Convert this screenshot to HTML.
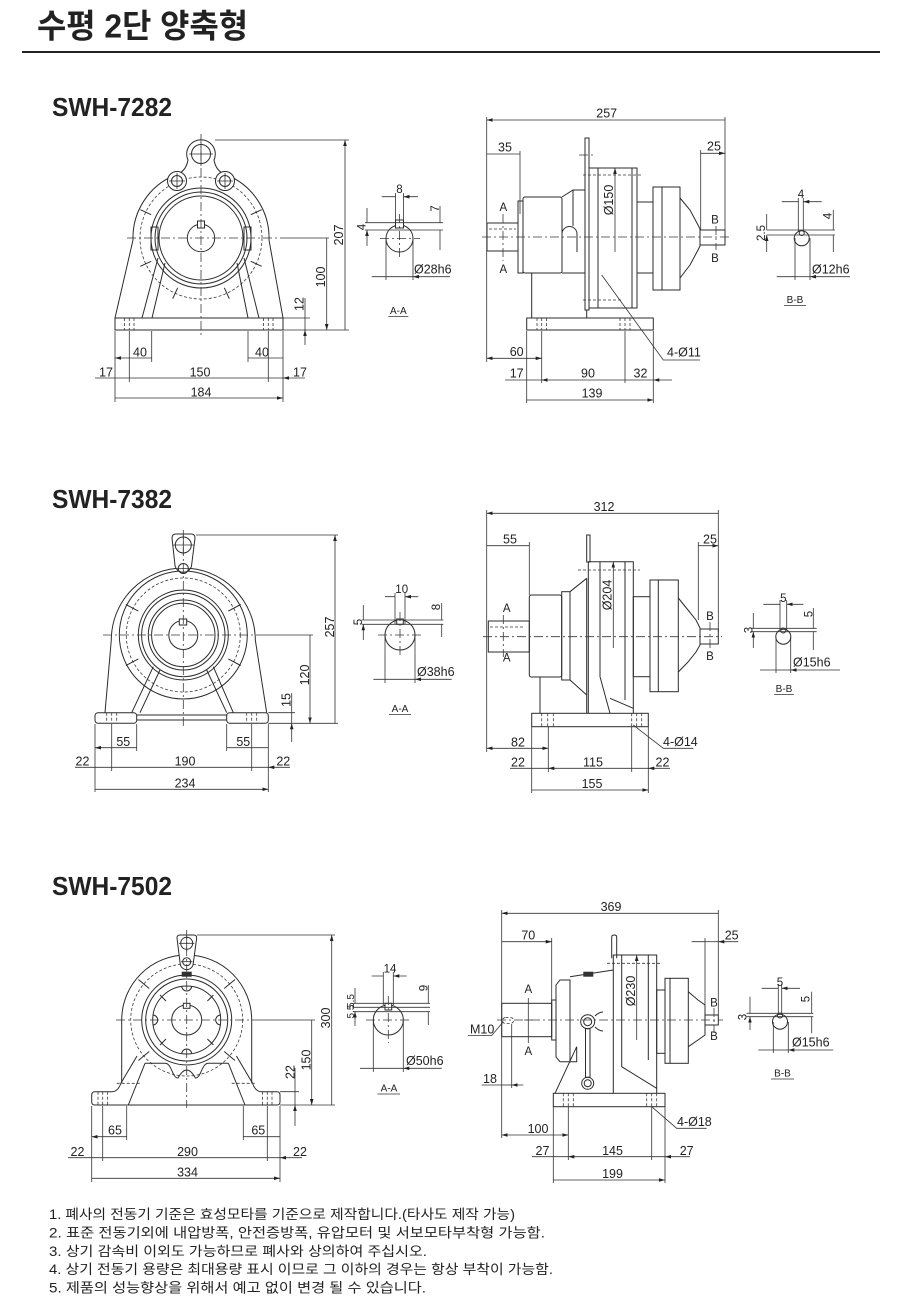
<!DOCTYPE html>
<html><head><meta charset="utf-8"><title>수평 2단 양축형</title>
<style>
html,body{margin:0;padding:0;background:#fff}
svg{display:block}
.s{fill:none;stroke:#2b2b2b;stroke-width:1}
.w{fill:#fff;stroke:#2b2b2b;stroke-width:1}
.c{fill:none;stroke:#3a3a3a;stroke-width:.8;stroke-dasharray:9 3 2 3}
.h{fill:none;stroke:#3a3a3a;stroke-width:.8;stroke-dasharray:3 2}
.e{fill:none;stroke:#333;stroke-width:.8}
.d{fill:none;stroke:#333;stroke-width:.8;marker-start:url(#ar);marker-end:url(#ar)}
.m{fill:none;stroke:#333;stroke-width:.8;marker-end:url(#ar)}
text{font-family:"Liberation Sans","Noto Sans CJK KR",sans-serif;fill:#222}
.t{font-size:12.5px;text-anchor:middle}
.ts{font-size:12.5px}
.l{font-size:10px;text-anchor:middle}
.k{font-size:11.5px;text-anchor:middle}
.n{font-size:13.5px}
</style></head><body>
<svg width="900" height="1305" viewBox="0 0 900 1305" xmlns="http://www.w3.org/2000/svg">
<defs><marker id="ar" viewBox="0 0 10 6" refX="10" refY="3" markerWidth="6" markerHeight="3.6" markerUnits="userSpaceOnUse" orient="auto-start-reverse"><path d="M0,0L10,3L0,6z" fill="#222"/></marker></defs>

<!-- TITLE -->
<text x="37" y="37.5" font-size="33" font-weight="bold" textLength="211" lengthAdjust="spacingAndGlyphs">수평 2단 양축형</text>
<rect x="22" y="51" width="858" height="2" fill="#222"/>

<text x="52" y="116" font-size="26" font-weight="bold" textLength="120" lengthAdjust="spacingAndGlyphs">SWH-7282</text>
<text x="52" y="508" font-size="26" font-weight="bold" textLength="120" lengthAdjust="spacingAndGlyphs">SWH-7382</text>
<text x="52" y="895" font-size="26" font-weight="bold" textLength="120" lengthAdjust="spacingAndGlyphs">SWH-7502</text>

<!-- ================= 7282 FRONT ================= -->
<circle class="h" cx="201" cy="238" r="61"/>
<path class="s" d="M115,318L133,240A68,68 0 0 1 175,175Q186,172 188,160A14.3,14.3 0 1 1 214,160Q216,172 227,175A68,68 0 0 1 269,240L283,318"/>
<circle class="s" cx="201" cy="154" r="9.5"/>
<path class="e" d="M189,154H213M201,142V166"/>
<path class="s" d="M250.8,214.7L261.7,209.7M250.8,261.3L261.7,266.3M224.3,287.8L229.3,298.7M177.7,287.8L172.7,298.7M151.2,261.3L140.3,266.3M151.2,214.7L140.3,209.7"/>
<circle class="w" cx="177" cy="181" r="9.5"/><circle class="s" cx="177" cy="181" r="5.5"/>
<circle class="w" cx="225" cy="181" r="9.5"/><circle class="s" cx="225" cy="181" r="5.5"/>
<path class="e" d="M169,181H185M177,173V189M217,181H233M225,173V189"/>
<circle class="s" cx="201" cy="238" r="50"/>
<circle class="s" cx="201" cy="238" r="46"/>
<circle class="s" cx="201" cy="238" r="42"/>
<rect class="s" x="151" y="227" width="7" height="23"/>
<rect class="s" x="244" y="227" width="7" height="23"/>
<circle class="s" cx="201" cy="238" r="13.7"/>
<rect class="w" x="197.5" y="221" width="7" height="7"/>
<path class="s" d="M158,258L142,318M165,263L152,318M237,263L248,318M244,258L259,318"/>
<rect class="s" x="115" y="318" width="168" height="12"/>
<path class="h" d="M124.5,318V330M129.3,318V330M134,318V330M263.5,318V330M268.3,318V330M273,318V330"/>
<path class="c" d="M127,238H282M201,134V336"/>
<path class="e" d="M282,238H329"/>
<!-- dims -->
<path class="e" d="M215,140H349M283,330H349M283,318H310"/>
<path class="d" d="M345,140V330M326.7,238V330"/>
<path class="m" d="M305,298V318M305,345V330"/>
<path class="e" d="M305,318V330"/>
<text class="t" transform="translate(343,235) rotate(-90)">207</text>
<text class="t" transform="translate(325,277) rotate(-90)">100</text>
<text class="t" transform="translate(303.5,304) rotate(-90)">12</text>
<path class="e" d="M115,331V402M283,331V402M129.3,331V382M268.3,331V382M151.7,331V362M248,331V362"/>
<path class="d" d="M115,358H151.7M248,358H283M129.3,378H268.3M115,398H283"/>
<path class="m" d="M95,378H115M305,378H283"/>
<path class="e" d="M115,378H129.3M268.3,378H283"/>
<text class="t" x="140" y="356.5">40</text>
<text class="t" x="262" y="356.5">40</text>
<text class="t" x="106" y="376.5">17</text>
<text class="t" x="200" y="376.5">150</text>
<text class="t" x="300" y="376.5">17</text>
<text class="t" x="201" y="396.5">184</text>

<!-- 7282 A-A -->
<circle class="s" cx="399.5" cy="238.5" r="13.5"/>
<rect class="w" x="395.5" y="220" width="8" height="8"/>
<path class="e" d="M365,222.7H443M365,230H443"/>
<path class="e" d="M395.5,193V222M403.5,193V222"/>
<path class="m" d="M381.7,196.7H395.5M418,196.7H403.5"/>
<path class="m" d="M440,206V222.7M440,250V230M367,208V222.7M367,246V230"/>
<path class="e" d="M386,239V280M413,239V280"/>
<path class="m" d="M371.7,276.7H386M450,276.7H413"/>
<path class="e" d="M386,276.7H413"/>
<path class="c" d="M380,238.5H420M399.5,214V258"/>
<text class="k" x="399.5" y="193">8</text>
<text class="k" transform="translate(439,208.5) rotate(-90)">7</text>
<text class="k" transform="translate(365.5,227) rotate(-90)">4</text>
<text class="ts" x="414" y="273.5">Ø28h6</text>
<text class="l" x="398.3" y="314">A-A</text>
<path class="e" d="M388.3,316.5H408.3"/>

<!-- 7282 SIDE -->
<rect class="s" x="487" y="223" width="31" height="28"/>
<path class="h" d="M489,229H516"/>
<rect class="s" x="518" y="201" width="5" height="72"/>
<rect class="s" x="523" y="197" width="39" height="76" rx="2"/>
<path class="s" d="M531.7,273V318"/>
<path class="s" d="M562,197L573,190H585M562,273H585M573,190V226"/>
<path class="s" d="M562,252V234A7.5,7.5 0 0 1 577,234V252"/>
<rect class="s" x="585" y="138" width="4" height="172"/>
<path class="c" d="M579,155H595"/>
<rect class="s" x="589" y="168" width="48" height="140"/>
<path class="s" d="M598,168V308M632,168V308"/>
<path class="h" d="M583,175H641M583,300H622"/>
<path class="m" d="M615,252V168"/>
<text class="t" transform="translate(613,200) rotate(-90)">Ø150</text>
<rect class="s" x="637" y="202" width="16" height="71"/>
<rect class="s" x="653" y="187" width="27" height="103"/>
<path class="s" d="M662,187V290"/>
<path class="s" d="M680,198L690,210L698,225L700,229V246L698,250L690,265L680,278"/>
<rect class="s" x="700" y="230" width="25" height="15"/>
<path class="c" d="M482,237H731"/>
<path class="c" d="M503,214V261M716,226V250"/>
<rect class="s" x="526.7" y="318" width="126.6" height="12"/>
<path class="h" d="M537,318V330M541.7,318V330M546.5,318V330M620,318V330M625,318V330M630,318V330"/>
<path class="s" d="M586.7,310V318"/>
<path class="e" d="M601.7,275L663.3,360H700"/>
<text class="ts" x="667" y="356.5">4-Ø11</text>
<text class="k" x="503.3" y="211">A</text>
<text class="k" x="503.3" y="273">A</text>
<text class="k" x="715" y="223.5">B</text>
<text class="k" x="715" y="262">B</text>
<!-- dims -->
<path class="e" d="M486.7,117V362M725,117V236M520,151V214M700.7,150V230"/>
<path class="d" d="M486.7,120H725M486.7,154H520M700.7,153.3H725"/>
<text class="t" x="606.7" y="117.5">257</text>
<text class="t" x="505" y="151.5">35</text>
<text class="t" x="714" y="150.5">25</text>
<path class="d" d="M486.7,358.3H541.7"/>
<text class="t" x="516.7" y="356">60</text>
<path class="e" d="M526.7,331V403M541.7,331V383M625,331V383M653.3,331V403"/>
<path class="m" d="M505,380H526.7M672,380H653.3"/>
<path class="e" d="M526.7,380H541.7M625,380H653.3"/>
<path class="d" d="M541.7,380H625M526.7,400H653.3"/>
<text class="t" x="516.7" y="377.5">17</text>
<text class="t" x="588" y="377.5">90</text>
<text class="t" x="640.5" y="377.5">32</text>
<text class="t" x="592" y="397.5">139</text>

<!-- 7282 B-B -->
<circle class="s" cx="801.7" cy="238.3" r="7.5"/>
<circle class="s" cx="801.7" cy="233" r="2.5"/>
<path class="e" d="M766.7,230H835M766.7,235H835"/>
<path class="e" d="M798.3,198V231M803.3,198V231"/>
<path class="m" d="M781.7,201.7H798.3M821.7,201.7H803.3"/>
<path class="m" d="M833.3,210V230M833.3,252V235M766.7,214V230M766.7,252V235"/>
<path class="e" d="M795,238V280M810,238V280"/>
<path class="m" d="M776.7,276.7H795M850,276.7H810"/>
<path class="e" d="M795,276.7H810"/>
<text class="k" x="801" y="198">4</text>
<text class="k" transform="translate(831.5,216) rotate(-90)">4</text>
<text class="k" transform="translate(765,233) rotate(-90)">2.5</text>
<text class="ts" x="812" y="273.5">Ø12h6</text>
<text class="l" x="795" y="303">B-B</text>
<path class="e" d="M784,305.5H806"/>

<!-- ================= 7382 FRONT ================= -->
<circle class="h" cx="183.3" cy="635" r="57"/>
<path class="s" d="M105,712.7L111.3,640A72,72 0 0 1 255.3,640L266.7,712.7"/>
<circle class="s" cx="183.3" cy="635" r="64"/>
<path class="s" d="M228.3,611.1L240.7,604.5M228.3,658.9L240.7,665.5M138.3,658.9L125.9,665.5M138.3,611.1L125.9,604.5"/>
<path class="w" d="M172,538Q172,534 176,534H191Q195,534 195,538L191.5,566A8.5,8.5 0 0 1 175.1,566Z"/>
<circle class="s" cx="183.3" cy="545" r="8"/>
<circle class="s" cx="183.3" cy="568.5" r="5"/>
<path class="e" d="M173,545H194M183.3,535V555M177,568.5H190"/>
<circle class="s" cx="183.3" cy="635" r="45"/>
<circle class="s" cx="183.3" cy="635" r="41.7"/>
<circle class="s" cx="183.3" cy="635" r="35"/>
<circle class="s" cx="183.3" cy="635" r="31.7"/>
<circle class="s" cx="183.3" cy="635" r="14.5"/>
<rect class="w" x="179.3" y="619" width="7.4" height="6"/>
<path class="s" d="M153.3,666.7L131.7,712.7M160,670L140,712.7M213.3,666.7L233.3,712.7M206.7,670L226.7,712.7"/>
<rect class="s" x="95" y="712.7" width="41.7" height="10.6" rx="3"/>
<rect class="s" x="226.7" y="712.7" width="41.6" height="10.6" rx="3"/>
<path class="s" d="M136.7,715H226.7M136.7,720H226.7"/>
<path class="h" d="M106.7,712.7V723.3M111.7,712.7V723.3M116.7,712.7V723.3M246.7,712.7V723.3M251.7,712.7V723.3M256.7,712.7V723.3"/>
<path class="c" d="M103,635H262M183.3,530V728"/>
<path class="e" d="M262,635H313"/>
<!-- dims -->
<path class="e" d="M196,535H338M268.3,723.3H338M268.3,712.7H295"/>
<path class="d" d="M335,535V723.3M310,635V723.3"/>
<path class="m" d="M291.7,693V712.7M291.7,742V723.3"/>
<path class="e" d="M291.7,712.7V723.3"/>
<text class="t" transform="translate(334,627) rotate(-90)">257</text>
<text class="t" transform="translate(309,675) rotate(-90)">120</text>
<text class="t" transform="translate(290.5,700) rotate(-90)">15</text>
<path class="e" d="M95,724V792M268.3,724V792M111.7,724V771M251.7,724V771M136.7,724V751M226.7,724V751"/>
<path class="d" d="M95,747.7H136.7M226.7,747.7H268.3M111.7,767.3H251.7M95,789.3H268.3"/>
<path class="m" d="M75,767.3H95M290,767.3H268.3"/>
<path class="e" d="M95,767.3H111.7M251.7,767.3H268.3"/>
<text class="t" x="123.3" y="746">55</text>
<text class="t" x="243.3" y="746">55</text>
<text class="t" x="82.5" y="765.5">22</text>
<text class="t" x="185" y="765.5">190</text>
<text class="t" x="283.3" y="765.5">22</text>
<text class="t" x="185" y="787.5">234</text>

<!-- 7382 A-A -->
<circle class="s" cx="400" cy="635" r="15"/>
<rect class="w" x="396.7" y="619" width="6.6" height="5.3"/>
<path class="e" d="M361.7,620H443.3M361.7,624.3H443.3"/>
<path class="e" d="M395,593V624M405,593V624"/>
<path class="m" d="M385,596.7H395M418.3,596.7H405"/>
<path class="m" d="M441.7,603V620M441.7,637V624.3M363.3,605V620M363.3,640V624.3"/>
<path class="e" d="M385,635V683M415,635V683"/>
<path class="m" d="M373.3,679.3H385M451.7,679.3H415"/>
<path class="e" d="M385,679.3H415"/>
<path class="c" d="M378,635H422M400,612V658"/>
<text class="k" x="401.7" y="593">10</text>
<text class="k" transform="translate(440,607) rotate(-90)">8</text>
<text class="k" transform="translate(362,622) rotate(-90)">5</text>
<text class="ts" x="417" y="676">Ø38h6</text>
<text class="l" x="400" y="712">A-A</text>
<path class="e" d="M389,714.5H411"/>

<!-- 7382 SIDE -->
<rect class="s" x="488.3" y="621" width="41" height="31"/>
<path class="h" d="M490,627H523"/>
<rect class="s" x="529.3" y="595" width="32.4" height="82" rx="2"/>
<rect class="s" x="561.7" y="591.7" width="8.3" height="88.3"/>
<path class="s" d="M570,591.7L586.7,578.3M570,680L586.7,695M586.7,578.3V713.3"/>
<rect class="s" x="586.7" y="535" width="3.3" height="27"/>
<path class="s" d="M588.3,713.3V561.7H633.3V713.3"/>
<path class="s" d="M600,561.7V676.7L610,713.3M625,561.7V700M610,698.3L633.3,708.3"/>
<path class="h" d="M578,570H640"/>
<path class="m" d="M613.3,648V561.7"/>
<text class="t" transform="translate(611.5,595) rotate(-90)">Ø204</text>
<rect class="s" x="633.3" y="596.7" width="16.7" height="80"/>
<rect class="s" x="650" y="580" width="28.3" height="111.7"/>
<path class="s" d="M658.3,580V691.7"/>
<path class="s" d="M678.3,598L688,610L696,620L700,628V645L696,652L688,662L678.3,672"/>
<rect class="s" x="700" y="629" width="18.3" height="15"/>
<path class="c" d="M483,636.7H722"/>
<path class="c" d="M503.3,615V657M710,622V652"/>
<rect class="s" x="531.7" y="713.3" width="116.6" height="13.4"/>
<path class="h" d="M541.7,713.3V726.7M547.7,713.3V726.7M553.3,713.3V726.7M631.7,713.3V726.7M636.7,713.3V726.7M641.7,713.3V726.7"/>
<path class="s" d="M540,677V713.3"/>
<path class="e" d="M633.3,725L663.3,748.3H693.3"/>
<text class="ts" x="663" y="746">4-Ø14</text>
<text class="k" x="506.7" y="612">A</text>
<text class="k" x="506.7" y="661.5">A</text>
<text class="k" x="710" y="620">B</text>
<text class="k" x="710" y="660">B</text>
<!-- dims -->
<path class="e" d="M486.7,510V752M718.3,510V632M529.3,542V595M698.3,542V620"/>
<path class="d" d="M486.7,513.3H718.3M486.7,545.7H529.3M698.3,545.7H718.3"/>
<text class="t" x="604" y="511">312</text>
<text class="t" x="510" y="543.5">55</text>
<text class="t" x="710" y="543.5">25</text>
<path class="d" d="M486.7,748.3H548.3"/>
<text class="t" x="518" y="746.5">82</text>
<path class="e" d="M531.7,727V793M548.3,727V772M631.7,727V772M648.3,727V793"/>
<path class="m" d="M510,768.3H531.7M670,768.3H648.3"/>
<path class="e" d="M531.7,768.3H548.3M631.7,768.3H648.3"/>
<path class="d" d="M548.3,768.3H631.7M531.7,790H648.3"/>
<text class="t" x="518" y="766.5">22</text>
<text class="t" x="593" y="766.5">115</text>
<text class="t" x="662.5" y="766.5">22</text>
<text class="t" x="592" y="788">155</text>

<!-- 7382 B-B -->
<circle class="s" cx="783.3" cy="636.7" r="7.5"/>
<circle class="s" cx="783.3" cy="630.5" r="2.5"/>
<path class="e" d="M751.7,628.3H816.7M751.7,631.7H816.7"/>
<path class="e" d="M780,600V630M786.7,600V630"/>
<path class="m" d="M763.3,604.3H780M803.3,604.3H786.7"/>
<path class="m" d="M813.3,608V628.3M813.3,650V631.7M753.3,613V628.3M753.3,648V631.7"/>
<path class="e" d="M776,637V673M790.7,637V673"/>
<path class="m" d="M760,670H776M840,670H790.7"/>
<path class="e" d="M776,670H790.7"/>
<text class="k" x="783.3" y="602">5</text>
<text class="k" transform="translate(812.5,614) rotate(-90)">5</text>
<text class="k" transform="translate(752.5,630) rotate(-90)">3</text>
<text class="ts" x="793" y="666.5">Ø15h6</text>
<text class="l" x="784" y="692">B-B</text>
<path class="e" d="M774,694.5H794"/>

<!-- ================= 7502 FRONT ================= -->
<circle class="h" cx="186.7" cy="1020" r="56"/>
<path class="s" d="M121.7,1083.3V1020A65,65 0 0 1 251.7,1020V1083.3"/>
<path class="s" d="M224.2,988.5L235,979.5M224.2,1051.5L235,1060.5M149.2,1051.5L138.4,1060.5M149.2,988.5L138.4,979.5"/>
<path class="w" d="M177,938Q177,935 180,935H193.5Q196.7,935 196.7,938L193.3,963A6.5,6.5 0 0 1 180.1,963Z"/>
<circle class="s" cx="186.7" cy="943.3" r="6"/>
<circle class="s" cx="186.7" cy="961.7" r="4"/>
<path class="e" d="M179,943.3H194.4M186.7,936V951M181,961.7H192.4"/>
<rect x="181.7" y="971.7" width="10" height="5" fill="#333"/>
<circle class="s" cx="186.7" cy="1020" r="45"/>
<circle class="s" cx="186.7" cy="1020" r="41"/>
<circle class="s" cx="186.7" cy="1020" r="34"/>
<path class="s" d="M181.7,986A5,5 0 0 0 191.7,986M181.7,1054A5,5 0 0 1 191.7,1054M152.7,1015A5,5 0 0 1 152.7,1025M220.7,1015A5,5 0 0 0 220.7,1025"/>
<path class="s" d="M160,995L166,1001M213.4,995L207.4,1001M160,1045L166,1039M213.4,1045L207.4,1039"/>
<circle class="s" cx="186.7" cy="1020" r="15"/>
<rect class="w" x="183.3" y="1003.3" width="6.7" height="5"/>
<path class="s" d="M145,1063.3H165C172,1063.3 172,1078 178,1078Q186.7,1062 195.4,1078C201.4,1078 201.4,1063.3 208.4,1063.3H228.4"/>
<path class="s" d="M145,1063.3L128.3,1105M228.4,1063.3L245,1105"/>
<path class="s" d="M137,1056L121,1083Q118,1091.7 112,1091.7M236.4,1056L252.4,1083Q255.4,1091.7 261.4,1091.7"/>
<path class="h" d="M116.7,1083.3H141.7M231.7,1083.3H256.7"/>
<path class="s" d="M95,1091.7H112M261.4,1091.7H277Q280,1091.7 280,1095V1102Q280,1105 277,1105H95Q91.7,1105 91.7,1102V1095Q91.7,1091.7 95,1091.7"/>
<path class="h" d="M98,1091.7V1105M102.7,1091.7V1105M107.5,1091.7V1105M262.5,1091.7V1105M267.3,1091.7V1105M272,1091.7V1105"/>
<path class="c" d="M116,1020H258M186.7,930V1108"/>
<path class="e" d="M258,1020H315"/>
<!-- dims -->
<path class="e" d="M197,935H335M280,1105H335M280,1091.7H299"/>
<path class="d" d="M331.7,935V1105M311.7,1020V1105"/>
<path class="m" d="M295,1068V1091.7M295,1126V1105"/>
<path class="e" d="M295,1091.7V1105"/>
<text class="t" transform="translate(330,1018) rotate(-90)">300</text>
<text class="t" transform="translate(310.5,1060) rotate(-90)">150</text>
<text class="t" transform="translate(294.5,1072) rotate(-90)">22</text>
<path class="e" d="M91.7,1106V1182M280,1106V1182M102.7,1106V1161M267.3,1106V1161M126.7,1106V1140M243.3,1106V1140"/>
<path class="d" d="M91.7,1136.7H126.7M243.3,1136.7H280M102.7,1157.7H267.3M91.7,1178.3H280"/>
<path class="m" d="M68,1157.7H91.7M302,1157.7H280"/>
<path class="e" d="M91.7,1157.7H102.7M267.3,1157.7H280"/>
<text class="t" x="115" y="1134.5">65</text>
<text class="t" x="258.3" y="1134.5">65</text>
<text class="t" x="77.5" y="1156">22</text>
<text class="t" x="187.5" y="1156">290</text>
<text class="t" x="300" y="1156">22</text>
<text class="t" x="187.5" y="1176.5">334</text>

<!-- 7502 A-A -->
<circle class="s" cx="388.3" cy="1020" r="15"/>
<rect class="w" x="385" y="1003.3" width="6.7" height="6.7"/>
<path class="e" d="M353.3,1003.3H430M353.3,1007.3H430M353.3,1011.7H430"/>
<path class="e" d="M383.3,972V1005M393.3,972V1005"/>
<path class="m" d="M371.7,976H383.3M406.7,976H393.3"/>
<path class="m" d="M428.3,985V1003.3M428.3,1025V1011.7M355,988V1003.3M355,1026V1011.7"/>
<path class="e" d="M373.3,1020V1072M403.3,1020V1072"/>
<path class="m" d="M360,1068.3H373.3M441.7,1068.3H403.3"/>
<path class="e" d="M373.3,1068.3H403.3"/>
<path class="c" d="M366,1020H411M388.3,996V1043"/>
<text class="k" x="390" y="972.5">14</text>
<text class="k" transform="translate(427.5,988) rotate(-90)">9</text>
<text class="l" transform="translate(354,1001) rotate(-90)">5.5</text>
<text class="l" transform="translate(354,1011.5) rotate(-90)">5.5</text>
<text class="ts" x="406" y="1065">Ø50h6</text>
<text class="l" x="389" y="1091.5">A-A</text>
<path class="e" d="M377.5,1094H400"/>

<!-- 7502 SIDE -->
<rect class="s" x="501.7" y="1003.3" width="50" height="33.4"/>
<rect class="h" x="502.5" y="1017.5" width="11" height="6" rx="3"/>
<text class="ts" x="470" y="1033.5">M10</text>
<path class="e" d="M468,1035.5H491.7L503.3,1021.7"/>
<rect class="s" x="551.7" y="1000" width="4.3" height="40"/>
<path class="s" d="M556,985L560,980H570V1061.7H560L556,1057Z"/>
<path class="s" d="M570,976.7L613.3,970M570,1061.7H576.7V1046.7L555,1093.3"/>
<rect x="583.3" y="971.7" width="10" height="5" fill="#333"/>
<circle class="s" cx="587.7" cy="1021.7" r="7"/>
<circle class="s" cx="587.7" cy="1021.7" r="4"/>
<rect class="s" x="585.5" y="1028.7" width="4.5" height="48.6"/>
<circle class="s" cx="587.7" cy="1083.3" r="6"/>
<circle class="s" cx="587.7" cy="1083.3" r="3.5"/>
<path class="s" d="M595,1016Q599,1012 603,1012M595,1027Q599,1031 603,1031"/>
<path class="s" d="M611.7,958.3V937Q611.7,935 614.2,935Q616.7,935 616.7,937V958.3"/>
<path class="h" d="M607,963.3H660"/>
<path class="s" d="M613.3,1093.3V955H656.7V1093.3"/>
<path class="s" d="M621.7,955V1066.7L656.7,1088.3M648.3,955V1060"/>
<path class="m" d="M636.7,1040V955"/>
<text class="t" transform="translate(635,991) rotate(-90)">Ø230</text>
<rect class="s" x="656.7" y="990" width="8.3" height="63.3"/>
<rect class="s" x="665" y="978.3" width="23.3" height="85"/>
<path class="s" d="M670,978.3V1063.3"/>
<path class="s" d="M688.3,991.7L698,1000L705,1005V1035L698,1040L688.3,1046.7"/>
<rect class="s" x="705" y="1015" width="13.3" height="10"/>
<path class="c" d="M497,1020H723"/>
<path class="e" d="M528.3,998V1043M524,1020H533"/>
<path class="c" d="M714,1008V1033"/>
<rect class="s" x="553.3" y="1093.3" width="111.7" height="13.4"/>
<path class="h" d="M563.3,1093.3V1106.7M568.3,1093.3V1106.7M573.3,1093.3V1106.7M646.7,1093.3V1106.7M651.7,1093.3V1106.7M656.7,1093.3V1106.7"/>
<path class="e" d="M651.7,1106.7L676.7,1128.3H706.7"/>
<text class="ts" x="677" y="1126">4-Ø18</text>
<text class="k" x="528.3" y="993">A</text>
<text class="k" x="528.3" y="1055">A</text>
<text class="k" x="714" y="1006.5">B</text>
<text class="k" x="714" y="1040">B</text>
<!-- dims -->
<path class="e" d="M501.7,910V1138M718.3,910V1015M551.7,938V1003M705,938V1012"/>
<path class="d" d="M501.7,913.3H718.3M501.7,941.7H551.7"/>
<path class="m" d="M691.7,941.7H705M738.3,941.7H718.3"/>
<path class="e" d="M705,941.7H718.3"/>
<text class="t" x="611" y="911">369</text>
<text class="t" x="528.3" y="939.5">70</text>
<text class="t" x="731.7" y="939.5">25</text>
<path class="e" d="M511.7,1024V1088"/>
<path class="m" d="M481.7,1085H501.7M523.3,1085H511.7"/>
<path class="e" d="M501.7,1085H511.7"/>
<text class="t" x="490" y="1083">18</text>
<path class="d" d="M501.7,1135H568.3"/>
<text class="t" x="538" y="1133">100</text>
<path class="e" d="M553.3,1107V1183M568.3,1107V1160M651.7,1107V1160M665,1107V1183"/>
<path class="m" d="M532,1156.7H553.3M690,1156.7H665"/>
<path class="e" d="M553.3,1156.7H568.3M651.7,1156.7H665"/>
<path class="d" d="M568.3,1156.7H651.7M553.3,1180H665"/>
<text class="t" x="542.5" y="1155">27</text>
<text class="t" x="612.5" y="1155">145</text>
<text class="t" x="686.7" y="1155">27</text>
<text class="t" x="612.5" y="1178">199</text>

<!-- 7502 B-B -->
<circle class="s" cx="780" cy="1021.7" r="7.5"/>
<circle class="s" cx="780" cy="1015.5" r="2.5"/>
<path class="e" d="M746.7,1013.3H813.3M746.7,1016.7H813.3"/>
<path class="e" d="M778.3,984V1015M781.7,984V1015"/>
<path class="m" d="M761.7,988.3H778.3M800,988.3H781.7"/>
<path class="m" d="M811.7,991.7V1013.3M811.7,1033.3V1016.7M750,996.7V1013.3M750,1030V1016.7"/>
<path class="e" d="M773.3,1022V1053M788.3,1022V1053"/>
<path class="m" d="M758.3,1050H773.3M833.3,1050H788.3"/>
<path class="e" d="M773.3,1050H788.3"/>
<text class="k" x="780" y="986">5</text>
<text class="k" transform="translate(809.5,999) rotate(-90)">5</text>
<text class="k" transform="translate(746.5,1017) rotate(-90)">3</text>
<text class="ts" x="792" y="1046.5">Ø15h6</text>
<text class="l" x="782.5" y="1076.5">B-B</text>
<path class="e" d="M771,1079H794"/>

<!-- NOTES -->
<text class="n" x="49" y="1219" textLength="466" lengthAdjust="spacingAndGlyphs">1. 폐사의 전동기 기준은 효성모타를 기준으로 제작합니다.(타사도 제작 가능)</text>
<text class="n" x="49" y="1237.4" textLength="496" lengthAdjust="spacingAndGlyphs">2. 표준 전동기외에 내압방폭, 안전증방폭, 유압모터 및 서보모타부착형 가능함.</text>
<text class="n" x="49" y="1255.8" textLength="378" lengthAdjust="spacingAndGlyphs">3. 상기 감속비 이외도 가능하므로 폐사와 상의하여 주십시오.</text>
<text class="n" x="49" y="1274.2" textLength="504" lengthAdjust="spacingAndGlyphs">4. 상기 전동기 용량은 최대용량 표시 이므로 그 이하의 경우는 항상 부착이 가능함.</text>
<text class="n" x="49" y="1292.6" textLength="377" lengthAdjust="spacingAndGlyphs">5. 제품의 성능향상을 위해서 예고 없이 변경 될 수 있습니다.</text>
</svg>
</body></html>
